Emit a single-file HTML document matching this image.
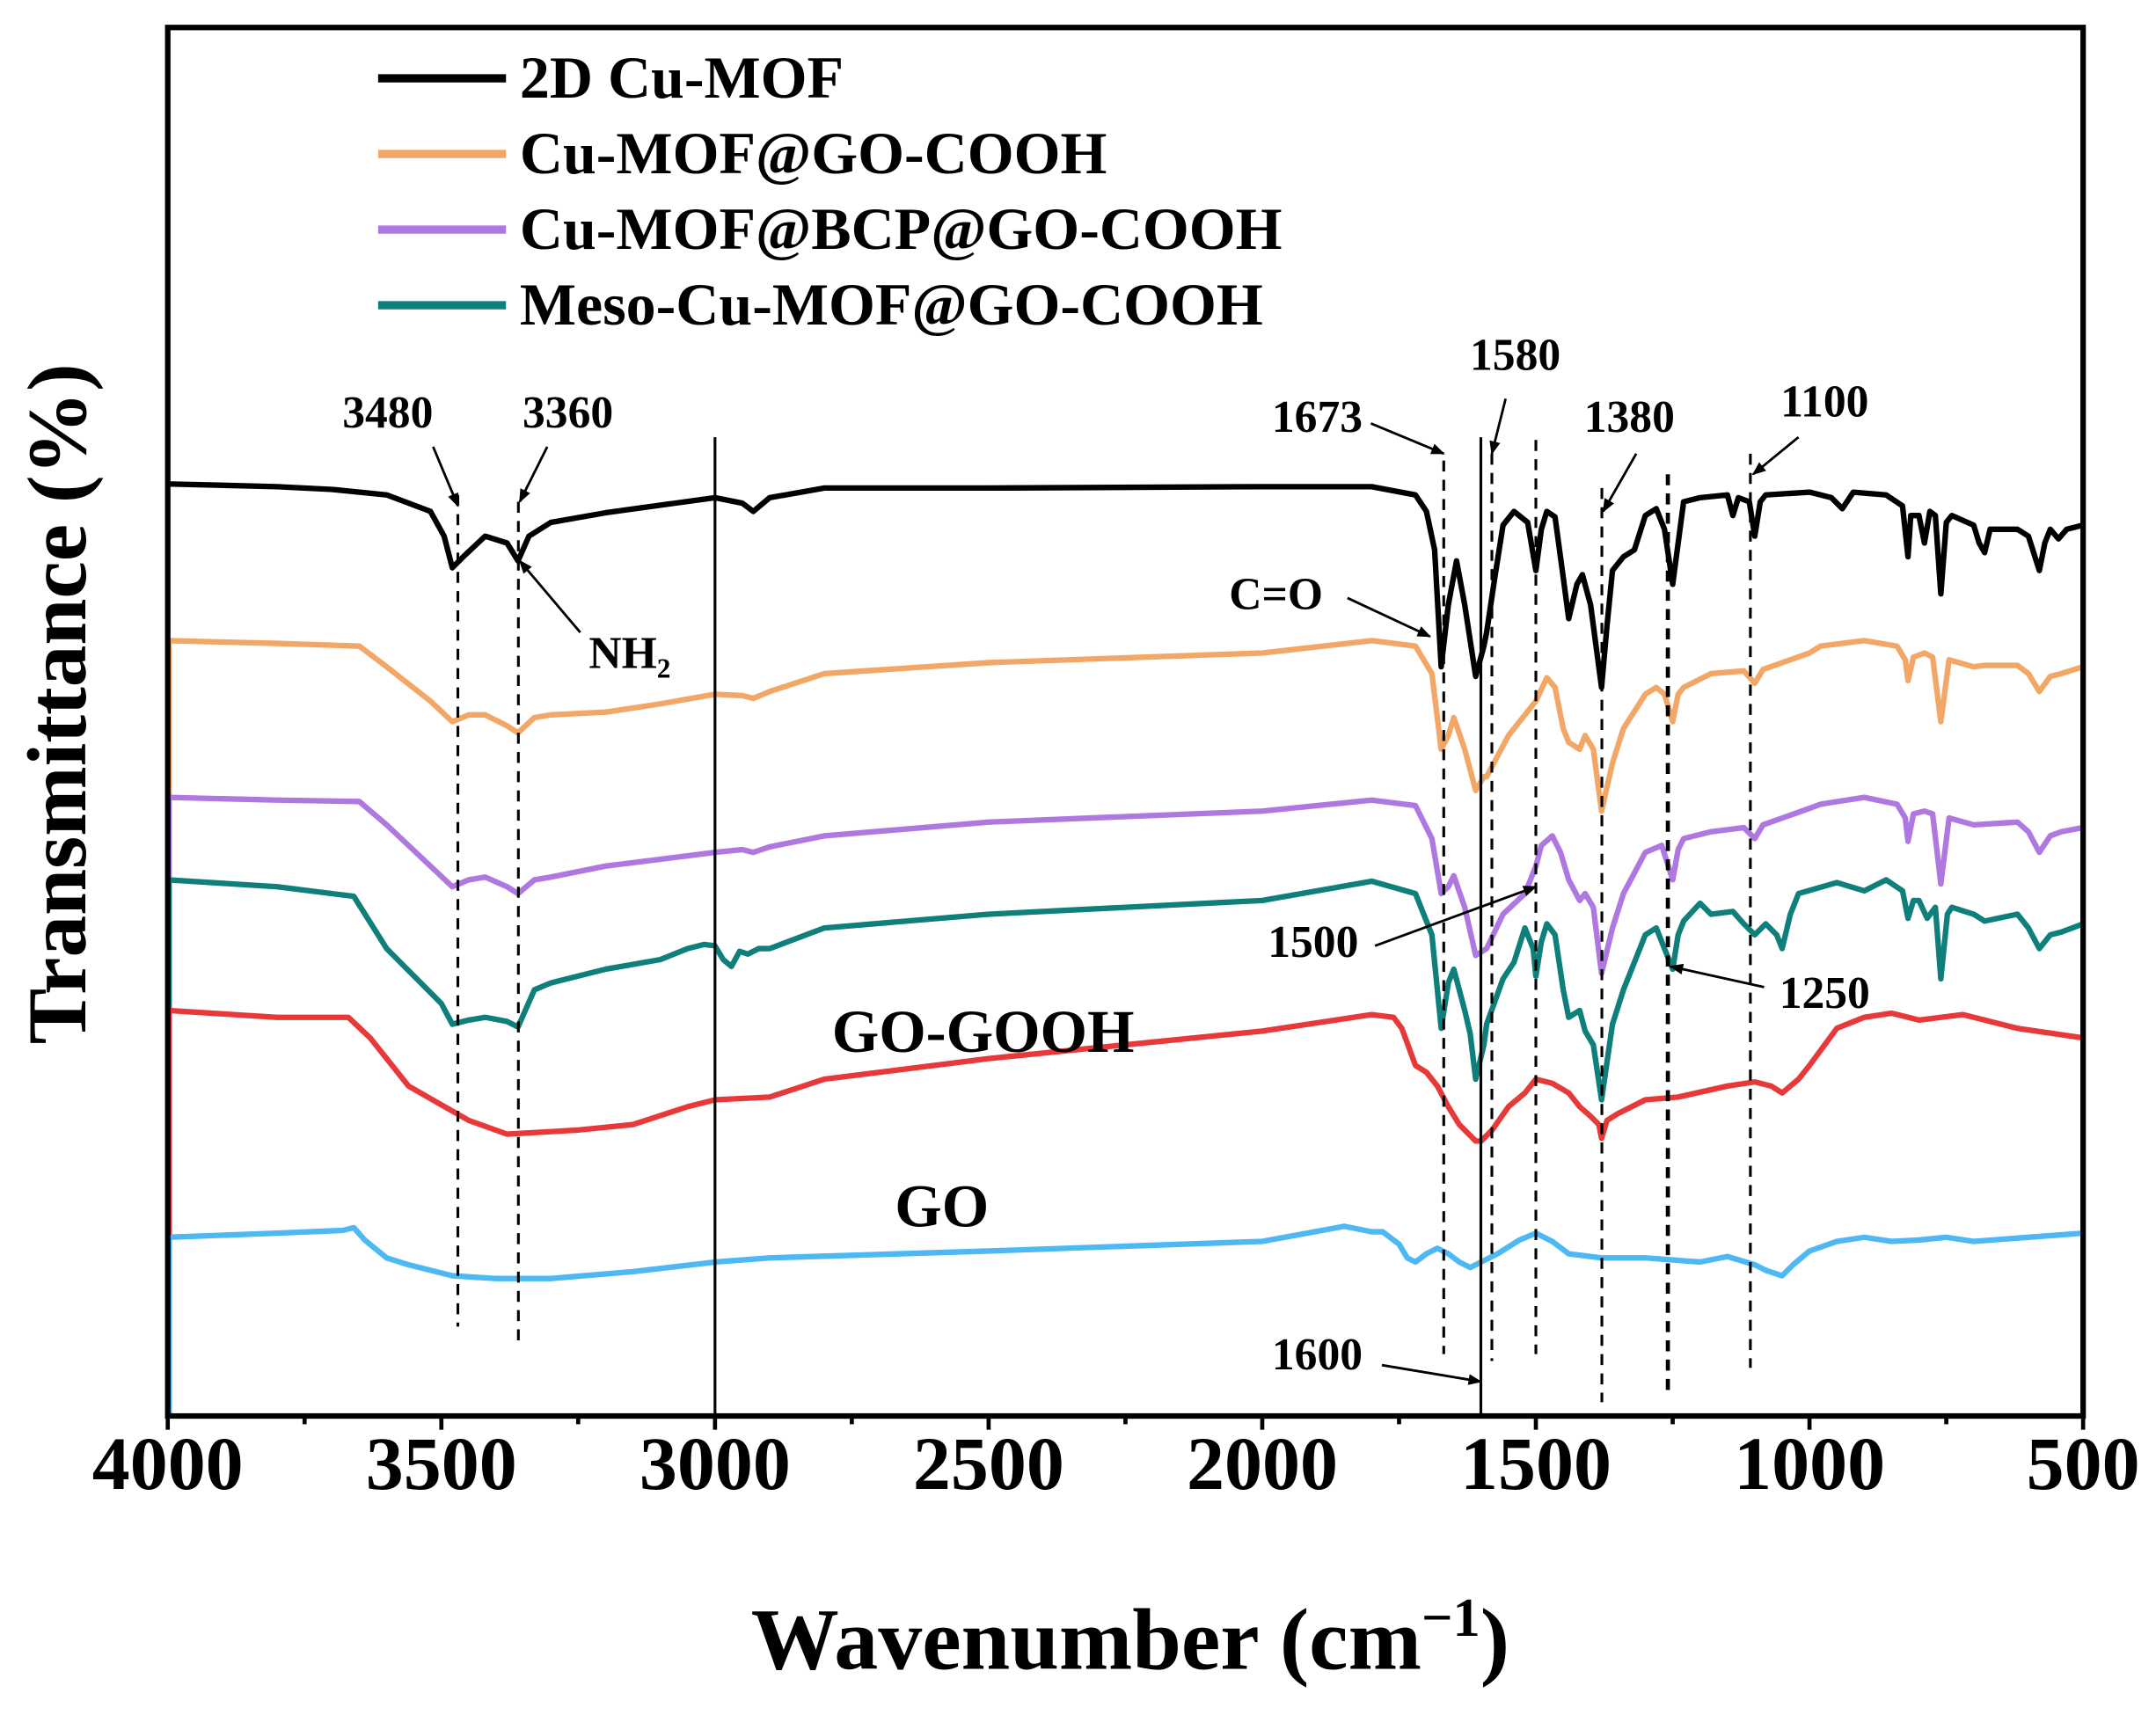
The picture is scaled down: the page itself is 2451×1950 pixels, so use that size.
<!DOCTYPE html>
<html><head><meta charset="utf-8"><style>
html,body{margin:0;padding:0;background:#fff;}
svg{display:block;}
text{font-family:"Liberation Serif",serif;font-weight:bold;fill:#000;}
</style></head><body>
<svg width="2451" height="1950" viewBox="0 0 1568 1247.5" preserveAspectRatio="none" xmlns="http://www.w3.org/2000/svg">
<defs><marker id="ar" markerWidth="10" markerHeight="8" refX="9" refY="4" orient="auto" markerUnits="userSpaceOnUse"><path d="M0,0 L10,4 L0,8 Z" fill="#000"/></marker></defs>
<rect x="0" y="0" width="1568" height="1248" fill="#fff"/>
<g stroke-width="4">
<line x1="123" y1="466" x2="123" y2="580" stroke="#F2A766"/>
<line x1="123" y1="580" x2="123" y2="640" stroke="#AE78E0"/>
<line x1="123" y1="640" x2="123" y2="1030" stroke="#0E7F7A"/>
<line x1="123" y1="735" x2="123" y2="910" stroke="#E8393A"/>
<line x1="123" y1="900" x2="123" y2="1030" stroke="#4DB8F4"/>
</g>
<g transform="translate(1714,0) scale(-0.398,1)" fill="none" stroke-width="6.3" stroke-linejoin="round">
<polyline vector-effect="non-scaling-stroke" stroke="#000" points="4000,352,3800,354,3700,356,3600,360,3520,372,3495,390,3480,413,3460,405,3420,390,3380,395,3360,408,3340,390,3300,380,3200,373,3000,362,2950,366,2930,372,2900,362,2800,355,2500,355,2000,354,1800,354,1720,360,1700,372,1685,400,1673,485,1660,440,1645,408,1630,440,1610,492,1595,470,1590,460,1575,420,1560,382,1540,372,1515,380,1500,415,1490,385,1480,372,1465,376,1450,420,1440,450,1425,425,1415,418,1400,440,1380,500,1370,455,1360,415,1340,405,1320,400,1300,375,1280,370,1265,385,1250,425,1240,395,1230,365,1200,362,1150,360,1140,375,1130,362,1110,365,1100,390,1090,365,1080,360,1000,358,960,362,940,370,920,358,860,360,830,368,820,405,815,375,800,375,790,395,780,372,770,375,760,432,750,380,740,375,700,382,690,395,680,402,670,385,620,385,600,390,580,415,570,395,560,385,545,392,530,385,500,382"/>
<polyline vector-effect="non-scaling-stroke" stroke="#F2A766" points="4000,466,3800,468,3650,470,3600,485,3520,510,3480,525,3450,520,3420,520,3380,528,3360,533,3330,522,3300,520,3200,518,3100,512,3000,505,2950,506,2930,508,2900,503,2800,490,2500,482,2000,475,1800,466,1720,470,1690,490,1673,545,1660,535,1650,522,1630,545,1610,575,1595,565,1590,565,1550,535,1520,520,1500,510,1480,493,1465,500,1450,530,1440,540,1420,545,1410,535,1395,545,1380,590,1360,555,1340,530,1300,505,1280,500,1265,505,1250,525,1240,505,1230,500,1180,490,1120,488,1100,497,1085,487,1000,475,980,470,900,466,840,470,825,480,820,495,810,478,790,475,775,478,760,525,745,480,700,485,680,484,620,484,600,490,580,503,560,492,540,490,500,485"/>
<polyline vector-effect="non-scaling-stroke" stroke="#AE78E0" points="4000,580,3800,582,3650,583,3600,600,3520,630,3480,645,3450,640,3420,638,3380,645,3360,650,3330,640,3300,638,3200,630,3100,625,3000,620,2950,618,2930,620,2900,616,2800,608,2500,598,2000,590,1800,582,1720,586,1690,610,1673,650,1660,645,1650,637,1630,660,1610,695,1590,690,1560,665,1520,650,1500,630,1490,615,1470,608,1455,620,1440,640,1420,655,1410,650,1395,660,1380,708,1360,675,1340,650,1300,620,1270,615,1250,640,1240,618,1230,610,1180,605,1120,602,1100,610,1085,600,1000,588,980,585,900,580,840,585,825,595,820,612,810,592,790,590,775,592,760,643,745,595,700,600,620,598,600,605,580,620,560,608,540,605,500,602"/>
<polyline vector-effect="non-scaling-stroke" stroke="#0E7F7A" points="4000,640,3800,645,3660,652,3600,690,3500,730,3480,745,3450,742,3420,740,3380,743,3360,747,3330,720,3300,715,3200,705,3100,698,3050,690,3020,687,3000,688,2985,698,2970,703,2955,692,2940,694,2920,690,2900,690,2800,675,2500,665,2000,655,1800,641,1720,650,1690,680,1673,748,1660,715,1650,705,1630,735,1620,752,1610,785,1595,760,1590,745,1560,712,1540,700,1520,675,1505,690,1500,710,1490,685,1480,672,1465,680,1450,720,1440,740,1420,735,1410,750,1395,760,1380,800,1360,745,1340,720,1300,680,1280,675,1265,690,1250,705,1240,680,1230,670,1200,657,1180,665,1140,663,1120,672,1100,680,1080,672,1060,680,1050,690,1035,665,1020,650,950,642,900,648,860,640,830,648,820,668,810,655,800,655,785,668,770,660,760,712,748,665,740,660,700,665,680,670,620,665,600,675,580,690,560,680,540,678,500,672"/>
<polyline vector-effect="non-scaling-stroke" stroke="#E8393A" points="4000,735,3800,740,3670,740,3630,755,3560,790,3450,815,3380,825,3250,822,3150,818,3050,805,3000,800,2900,798,2800,785,2500,770,2000,750,1800,738,1760,740,1745,748,1720,775,1700,780,1680,790,1660,805,1640,818,1610,830,1600,830,1580,822,1550,805,1520,795,1500,785,1470,788,1440,795,1420,805,1400,812,1385,818,1380,828,1370,815,1350,810,1300,800,1240,798,1150,790,1100,787,1070,790,1050,795,1020,785,1000,775,950,748,900,740,850,737,800,742,760,740,720,738,620,748,500,755"/>
<polyline vector-effect="non-scaling-stroke" stroke="#4DB8F4" points="4000,900,3800,897,3680,895,3660,893,3640,902,3600,915,3560,920,3480,928,3400,930,3300,930,3150,925,3000,918,2900,915,2500,910,2000,903,1850,892,1800,896,1780,896,1750,905,1735,915,1720,918,1700,912,1680,908,1660,912,1640,918,1620,922,1600,918,1570,912,1530,902,1500,897,1470,903,1440,912,1420,913,1380,915,1300,915,1200,918,1150,914,1100,920,1080,924,1050,928,1030,920,1000,910,950,903,900,900,850,903,800,902,750,900,700,903,600,900,500,897"/>
</g>
<g stroke="#000" stroke-width="2" fill="none">
<line x1="520" y1="318" x2="520" y2="1030"/>
<line x1="1077" y1="318" x2="1077" y2="1030"/>
<g stroke-dasharray="8,6">
<line x1="333" y1="360" x2="333" y2="965"/>
<line x1="377" y1="365" x2="377" y2="975"/>
<line x1="1050" y1="335" x2="1050" y2="985"/>
<line x1="1085" y1="330" x2="1085" y2="990"/>
<line x1="1117" y1="320" x2="1117" y2="985"/>
<line x1="1165" y1="355" x2="1165" y2="1020"/>
<line x1="1213" y1="345" x2="1213" y2="1015" stroke-width="3"/>
<line x1="1273" y1="330" x2="1273" y2="995"/>
</g>
<g stroke-width="1.8" marker-end="url(#ar)">
<line x1="315" y1="325" x2="333" y2="368"/>
<line x1="398" y1="325" x2="378" y2="365"/>
<line x1="422" y1="460" x2="378" y2="408"/>
<line x1="997" y1="308" x2="1050" y2="330"/>
<line x1="1095" y1="290" x2="1085" y2="330"/>
<line x1="1190" y1="330" x2="1166" y2="372"/>
<line x1="1308" y1="318" x2="1275" y2="345"/>
<line x1="980" y1="435" x2="1040" y2="463"/>
<line x1="1000" y1="688" x2="1117" y2="645"/>
<line x1="1283" y1="718" x2="1215" y2="703"/>
<line x1="1005" y1="993" x2="1077" y2="1005"/>
</g>
</g>
<rect x="122" y="20" width="1393" height="1010" fill="none" stroke="#000" stroke-width="4"/>
<g stroke="#000" stroke-width="3">
<line x1="122" y1="1030" x2="122" y2="1040"/><line x1="221.5" y1="1030" x2="221.5" y2="1036"/>
<line x1="321" y1="1030" x2="321" y2="1040"/><line x1="420.5" y1="1030" x2="420.5" y2="1036"/>
<line x1="520" y1="1030" x2="520" y2="1040"/><line x1="619.5" y1="1030" x2="619.5" y2="1036"/>
<line x1="719" y1="1030" x2="719" y2="1040"/><line x1="818.5" y1="1030" x2="818.5" y2="1036"/>
<line x1="918" y1="1030" x2="918" y2="1040"/><line x1="1017.5" y1="1030" x2="1017.5" y2="1036"/>
<line x1="1117" y1="1030" x2="1117" y2="1040"/><line x1="1216.5" y1="1030" x2="1216.5" y2="1036"/>
<line x1="1316" y1="1030" x2="1316" y2="1040"/><line x1="1415.5" y1="1030" x2="1415.5" y2="1036"/>
<line x1="1515" y1="1030" x2="1515" y2="1040"/>
</g>
<g font-size="55" text-anchor="middle">
<text x="122" y="1083">4000</text><text x="321" y="1083">3500</text><text x="520" y="1083">3000</text>
<text x="719" y="1083">2500</text><text x="918" y="1083">2000</text><text x="1117" y="1083">1500</text>
<text x="1316" y="1083">1000</text><text x="1515" y="1083">500</text>
</g>
<text x="822" y="1214" font-size="64" text-anchor="middle">Wavenumber (cm<tspan dy="-24" font-size="40">−1</tspan><tspan dy="24">)</tspan></text>
<text transform="translate(62,512) rotate(-90)" font-size="61" text-anchor="middle">Transmittance (%)</text>
<g stroke-width="6">
<line x1="275" y1="57" x2="368" y2="57" stroke="#000"/>
<line x1="275" y1="112" x2="368" y2="112" stroke="#F2A766"/>
<line x1="275" y1="167" x2="368" y2="167" stroke="#AE78E0"/>
<line x1="275" y1="222" x2="368" y2="222" stroke="#0E7F7A"/>
</g>
<g font-size="43.5">
<text x="378" y="71">2D Cu-MOF</text>
<text x="378" y="126">Cu-MOF@GO-COOH</text>
<text x="378" y="181">Cu-MOF@BCP@GO-COOH</text>
<text x="378" y="236">Meso-Cu-MOF@GO-COOH</text>
</g>
<g font-size="33" text-anchor="middle">
<text x="282" y="311">3480</text><text x="413" y="311">3360</text>
<text x="958" y="314">1673</text><text x="1102" y="269">1580</text>
<text x="1185" y="314">1380</text><text x="1327" y="303">1100</text>
<text x="928" y="443">C=O</text>
<text x="458" y="486">NH<tspan font-size="20" dy="7">2</tspan></text>
<text x="955" y="696">1500</text><text x="1327" y="733">1250</text>
<text x="958" y="996">1600</text>
</g>
<g font-size="44" text-anchor="middle">
<text x="715" y="765">GO-GOOH</text>
<text x="685" y="892">GO</text>
</g>
</svg>
</body></html>
